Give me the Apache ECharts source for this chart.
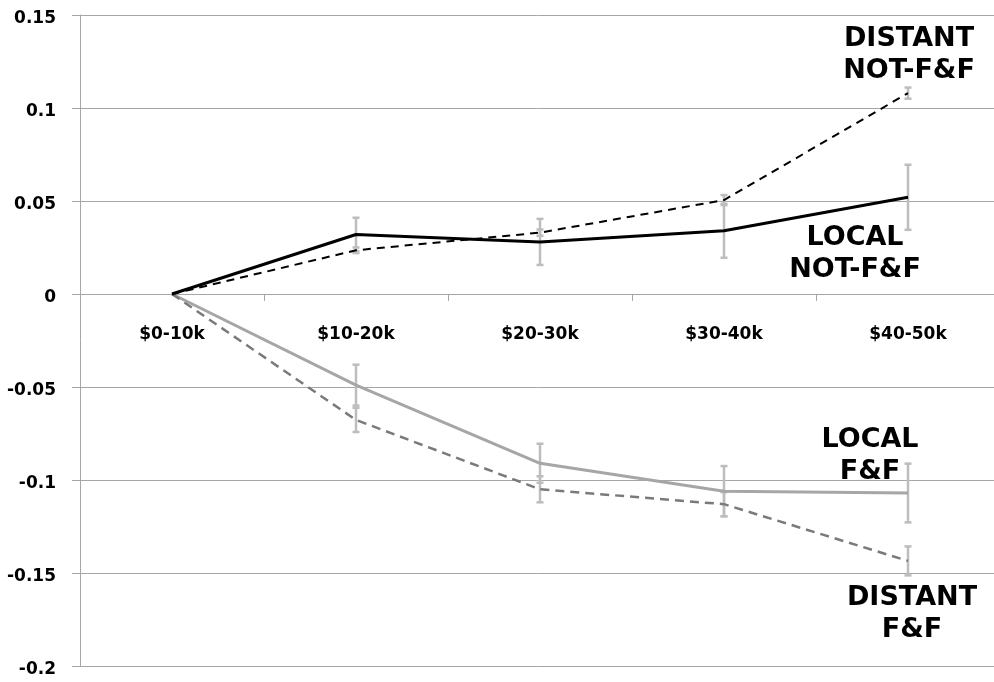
<!DOCTYPE html>
<html>
<head>
<meta charset="utf-8">
<script src="https://cdn.jsdelivr.net/npm/echarts@6/dist/echarts.min.js"></script>
<style>
html,body{margin:0;padding:0;background:#fff;}
#c{width:994px;height:682px;}
</style>
</head>
<body>
<div id="c"></div>
<script>
const categories = ['$0-10k', '$10-20k', '$20-30k', '$30-40k', '$40-50k'];
const yTicks = [-0.2, -0.15, -0.1, -0.05, 0, 0.05, 0.1, 0.15];

const localNotFF = [0, 0.032, 0.028, 0.034, 0.052];
const localNotFFErr = [0, 0.009, 0.0124, 0.0145, 0.0175];
const distantNotFF = [0, 0.0235, 0.033, 0.0505, 0.108];
const distantNotFFErr = [0, 0.0015, 0.0017, 0.0027, 0.003];
const localFF = [0, -0.049, -0.091, -0.106, -0.107];
const localFFErr = [0, 0.011, 0.0105, 0.0135, 0.0158];
const distantFF = [0, -0.0677, -0.105, -0.113, -0.1435];
const distantFFErr = [0, 0.0065, 0.007, 0.0065, 0.0078];

const seriesLabels = ['LOCAL\nNOT-F&F', 'DISTANT\nNOT-F&F', 'LOCAL\nF&F', 'DISTANT\nF&F'];

const FONT = '"DejaVu Sans", Verdana, sans-serif';
const chart = echarts.init(document.getElementById('c'), null, {renderer: 'canvas'});

const GRID_TOP = 15, GRID_BOTTOM = 16, GRID_H = 682 - GRID_TOP - GRID_BOTTOM;
// offset that moves the category axis from the grid bottom up to the y = 0 line
const zeroOffset = -GRID_H * (0 - yTicks[0]) / (yTicks[yTicks.length - 1] - yTicks[0]);

function errData(vals, errs) {
  return vals.map((v, i) => [i, v - errs[i], v + errs[i]]);
}
function errSeries(vals, errs) {
  return {
    type: 'custom',
    z: 1,
    silent: true,
    data: errData(vals, errs).filter(d => d[2] - d[1] > 0),
    renderItem: function (params, api) {
      const x = api.value(0);
      const lo = api.coord([x, api.value(1)]);
      const hi = api.coord([x, api.value(2)]);
      const hw = 3.5;
      const st = {stroke: '#bdbdbd', lineWidth: 2.5};
      return {
        type: 'group',
        children: [
          {type: 'line', shape: {x1: lo[0], y1: lo[1], x2: hi[0], y2: hi[1]}, style: st},
          {type: 'line', shape: {x1: lo[0] - hw, y1: lo[1], x2: lo[0] + hw, y2: lo[1]}, style: st},
          {type: 'line', shape: {x1: hi[0] - hw, y1: hi[1], x2: hi[0] + hw, y2: hi[1]}, style: st}
        ]
      };
    }
  };
}
function lineSeries(name, vals, color, width, type) {
  return {
    name: name,
    type: 'line',
    z: 3,
    data: vals,
    showSymbol: false,
    symbol: 'none',
    silent: true,
    lineStyle: {color: color, width: width, type: type}
  };
}

const labelStyle = {
  fontFamily: FONT,
  fontWeight: 'bold',
  fontSize: 27,
  lineHeight: 32,
  fill: '#000',
  align: 'center',
  verticalAlign: 'middle'
};

chart.setOption({
  animation: false,
  backgroundColor: '#fff',
  grid: {left: 80, right: -6, top: GRID_TOP, bottom: GRID_BOTTOM, containLabel: false, outerBoundsMode: 'none'},
  xAxis: {
    type: 'category',
    data: categories,
    boundaryGap: true,
    position: 'bottom',
    offset: zeroOffset,
    axisLine: {show: true, onZero: false, lineStyle: {color: '#a6a6a6', width: 1}},
    axisTick: {show: true, length: 7, alignWithLabel: false, lineStyle: {color: '#a6a6a6'}},
    axisLabel: {margin: 32, fontFamily: FONT, fontWeight: 'bold', fontSize: 17, color: '#000'},
    splitLine: {show: false}
  },
  yAxis: {
    type: 'value',
    min: yTicks[0],
    max: yTicks[yTicks.length - 1],
    interval: 0.05,
    axisLine: {show: true, lineStyle: {color: '#a6a6a6', width: 1}},
    axisTick: {show: true, length: 8, lineStyle: {color: '#a6a6a6'}},
    axisLabel: {
      margin: 24, fontFamily: FONT, fontWeight: 'bold', fontSize: 17, color: '#000',
      formatter: function (v) { return '{v|' + String(Math.round(v * 100) / 100) + '}'; },
      rich: {
        v: {fontFamily: FONT, fontWeight: 'bold', fontSize: 17, color: '#000', padding: [7, 0, 0, 0]}
      }
    },
    splitLine: {show: true, lineStyle: {color: '#a6a6a6', width: 1}}
  },
  series: [
    errSeries(localNotFF, localNotFFErr),
    errSeries(distantNotFF, distantNotFFErr),
    errSeries(localFF, localFFErr),
    errSeries(distantFF, distantFFErr),
    lineSeries('LOCAL F&F', localFF, '#a6a6a6', 3, 'solid'),
    lineSeries('DISTANT F&F', distantFF, '#7a7a7a', 2.5, [9, 6]),
    lineSeries('DISTANT NOT-F&F', distantNotFF, '#000000', 2, [8, 6]),
    lineSeries('LOCAL NOT-F&F', localNotFF, '#000000', 3, 'solid')
  ],
  graphic: [
    {type: 'text', x: 909, y: 55, z: 10, style: Object.assign({text: seriesLabels[1]}, labelStyle)},
    {type: 'text', x: 855, y: 254, z: 10, style: Object.assign({text: seriesLabels[0]}, labelStyle)},
    {type: 'text', x: 870, y: 456, z: 10, style: Object.assign({text: seriesLabels[2]}, labelStyle)},
    {type: 'text', x: 912, y: 614, z: 10, style: Object.assign({text: seriesLabels[3]}, labelStyle)}
  ]
});
</script>
</body>
</html>
